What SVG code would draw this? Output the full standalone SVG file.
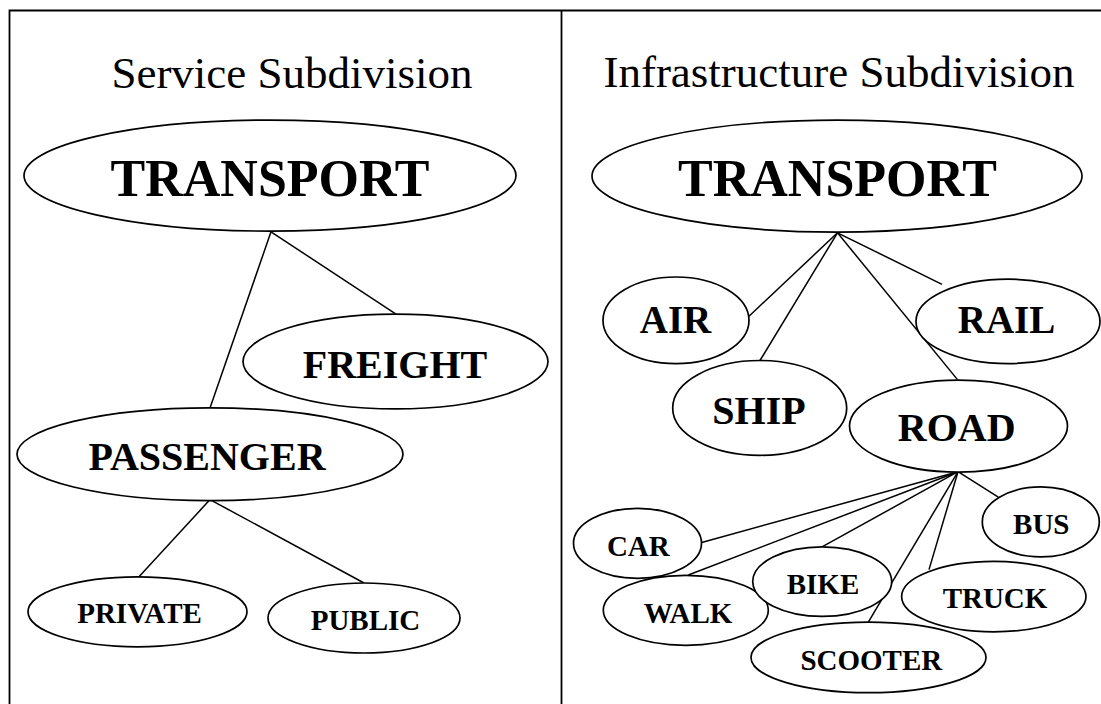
<svg xmlns="http://www.w3.org/2000/svg" width="1101" height="704" viewBox="0 0 1101 704">
<style>
.frame{fill:none;stroke:#000;stroke-width:1.8}
.node ellipse{fill:#fff;stroke:#000;stroke-width:1.7}
.node text{font-family:"Liberation Serif","Times New Roman",serif;font-weight:bold;text-anchor:middle;fill:#000}
.title{font-family:"Liberation Serif","Times New Roman",serif;font-size:45px;text-anchor:middle;fill:#000}
.big{font-size:52px}
.mid{font-size:40px}
.mid2{font-size:39px}
.small{font-size:29px}
#connectors line{stroke:#000;stroke-width:1.5}
</style>
<rect width="1101" height="704" fill="#fff"/>
<path class="frame" d="M9.5,704 V10.5 H1101 M561.5,10.5 V704"/>
<text class="title" x="292" y="88">Service Subdivision</text>
<text class="title" x="839" y="87">Infrastructure Subdivision</text>
<g id="connectors">
  <line x1="271" y1="231.8" x2="210" y2="407.9"/>
  <line x1="271" y1="231.8" x2="396" y2="314.2"/>
  <line x1="210" y1="499.6" x2="139" y2="576.8"/>
  <line x1="210" y1="499.6" x2="364" y2="583"/>
  <line x1="837.5" y1="232.8" x2="749" y2="316.2"/>
  <line x1="837.5" y1="232.8" x2="760" y2="360.5"/>
  <line x1="837.5" y1="232.8" x2="957.5" y2="379.6"/>
  <line x1="837.5" y1="232.8" x2="942" y2="284.3"/>
  <line x1="958" y1="471.7" x2="701.7" y2="542.5"/>
  <line x1="958" y1="471.7" x2="688.3" y2="575"/>
  <line x1="958" y1="471.7" x2="822" y2="546.9"/>
  <line x1="958" y1="471.7" x2="868.3" y2="622.1"/>
  <line x1="958" y1="471.7" x2="929" y2="569.6"/>
  <line x1="958" y1="471.7" x2="998.3" y2="497.2"/>
</g>
<g id="s-transport" class="node"><ellipse cx="270" cy="175.6" rx="246" ry="55.5"/><text class="big" x="270" y="196.2">TRANSPORT</text></g>
<g id="s-freight" class="node"><ellipse cx="395.5" cy="361.5" rx="152.5" ry="47.4"/><text class="mid" x="395" y="377.5">FREIGHT</text></g>
<g id="s-passenger" class="node"><ellipse cx="210" cy="454.2" rx="193" ry="46.4"/><text class="mid" x="207" y="470.2">PASSENGER</text></g>
<g id="s-private" class="node"><ellipse cx="137.5" cy="611.8" rx="109.5" ry="35"/><text class="small" x="139.5" y="623.2">PRIVATE</text></g>
<g id="s-public" class="node"><ellipse cx="364" cy="618" rx="96" ry="35"/><text class="small" x="365.5" y="630">PUBLIC</text></g>
<g id="i-transport" class="node"><ellipse cx="837" cy="176.1" rx="245" ry="56"/><text class="big" x="837.5" y="196.2">TRANSPORT</text></g>
<g id="i-air" class="node"><ellipse cx="676" cy="320.3" rx="73" ry="43.3"/><text class="mid2" x="675.5" y="332.7">AIR</text></g>
<g id="i-rail" class="node"><ellipse cx="1008" cy="321.4" rx="92" ry="42.2"/><text class="mid2" x="1006.5" y="332.7">RAIL</text></g>
<g id="i-ship" class="node"><ellipse cx="759.7" cy="407.9" rx="87" ry="47.4"/><text class="mid" x="759" y="423.8">SHIP</text></g>
<g id="i-road" class="node"><ellipse cx="958.5" cy="426.1" rx="109" ry="46"/><text class="mid" x="956.7" y="441.2">ROAD</text></g>
<g id="i-car" class="node"><ellipse cx="637.5" cy="543.3" rx="64" ry="35"/><text class="small" x="638.3" y="556.2">CAR</text></g>
<g id="i-bus" class="node"><ellipse cx="1040.8" cy="521.9" rx="58.5" ry="35"/><text class="small" x="1041.3" y="533.8">BUS</text></g>
<g id="i-walk" class="node"><ellipse cx="685.8" cy="610.3" rx="82.5" ry="35"/><text class="small" x="688" y="623.2">WALK</text></g>
<g id="i-bike" class="node"><ellipse cx="822.2" cy="581.6" rx="69.5" ry="34.8"/><text class="small" x="823" y="594">BIKE</text></g>
<g id="i-truck" class="node"><ellipse cx="993.8" cy="596.6" rx="92.2" ry="35.2"/><text class="small" x="995" y="608.4">TRUCK</text></g>
<g id="i-scooter" class="node"><ellipse cx="868.5" cy="657.4" rx="117.5" ry="35.3"/><text class="small" x="871.3" y="670.2">SCOOTER</text></g>
</svg>
